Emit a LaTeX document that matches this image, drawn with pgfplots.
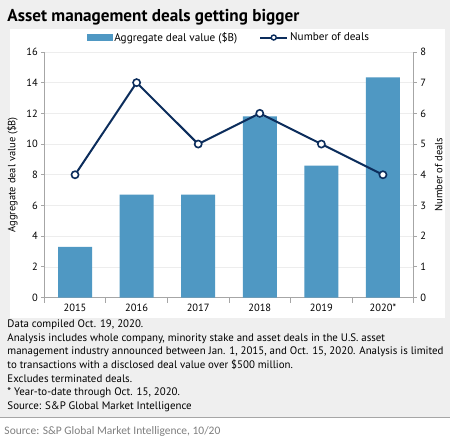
\documentclass[border=0pt]{standalone}
\usepackage{pgfplots}
\pgfplotsset{compat=1.18}
\usepackage{fontspec}
\setmainfont{PT Sans}
\newfontfamily\srcfont{Carlito}
\definecolor{bg}{HTML}{EFEFEF}
\definecolor{barblue}{HTML}{4F98C3}
\definecolor{navy}{HTML}{0C2D5C}
\definecolor{axisgray}{HTML}{A6A6A6}
\definecolor{gridgray}{HTML}{EDEDED}
\definecolor{srcgray}{HTML}{7F7F7F}

% Aggregate deal value ($B) and number of deals per year
\pgfplotstableread{
idx value deals
0 3.3  4
1 6.7  7
2 6.7  5
3 11.8 6
4 8.6  5
5 14.35 4
}\dealdata

\pgfplotsset{
  common/.style={
    at={(44pt,146pt)}, anchor=south west,
    scale only axis, width=370pt, height=246pt,
    xmin=-0.5, xmax=5.5,
    ticklabel style={font=\fontsize{10.5}{12}\selectfont},
    /pgf/number format/assume math mode=true,
    axis line style={axisgray, line width=0.8pt},
    tick style={axisgray, line width=0.8pt},
    tick align=outside,
    major tick length=3pt,
    label style={font=\fontsize{10.5}{12}\selectfont},
  },
}

\begin{document}
\begin{tikzpicture}[x=1pt,y=1pt]
  % backgrounds
  \fill[bg] (0pt,26pt) rectangle (450pt,444pt);
  \fill[white] (0pt,0pt) rectangle (450pt,26pt);
  \draw[axisgray, line width=0.6pt] (0pt,26pt) -- (450pt,26pt);
  \fill[white] (10pt,126pt) rectangle (445pt,415pt);

  % title
  \node[anchor=west, inner sep=0pt] at (7pt,427pt)
    {\fontsize{17.2}{20}\selectfont\bfseries Asset management deals getting bigger};

  % left axis: bars
  \begin{axis}[common,
    ymin=0, ymax=16, ytick={0,2,...,16},
    axis y line*=left, axis x line*=bottom,
    xtick={0,...,5},
    xticklabels={2015,2016,2017,2018,2019,2020*},
    minor xtick={-0.5,0.5,...,5.5},
    major x tick style={draw=none},
    minor tick length=5pt,
    ymajorgrids, grid style={gridgray, line width=0.6pt},
    ylabel={Aggregate deal value (\$B)},
    ylabel style={at={(axis description cs:-0.0865,0.5)}, anchor=center},
  ]
    \addplot[ybar, bar width=34pt, fill=barblue, draw=none] table[x=idx, y=value] {\dealdata};
  \end{axis}

  % right axis: line
  \begin{axis}[common,
    ymin=0, ymax=8, ytick={0,...,8},
    axis y line*=right, axis x line=none,
    ylabel={Number of deals},
    ylabel style={at={(axis description cs:1.0676,0.5)}, anchor=center},
    legend columns=2,
    legend style={at={(0.5,1)}, anchor=south, yshift=5pt, draw=none, fill=none,
      font=\fontsize{11.2}{12}\selectfont,
      /tikz/every even column/.append style={column sep=20pt}},
  ]
    \addlegendimage{legend image code/.code={\fill[barblue] (0pt,-3pt) rectangle (25pt,3pt);}}
    \addlegendentry{Aggregate deal value (\$B)}
    \addplot[navy, line width=2pt, mark=*, mark size=3.6pt,
      mark options={fill=white, draw=navy, line width=1.6pt},
      legend image code/.code={
        \draw[navy, line width=2pt] (0pt,0pt) -- (27pt,0pt);
        \draw[navy, fill=white, line width=1.4pt] (13.5pt,0pt) circle (2.5pt);}]
      table[x=idx, y=deals] {\dealdata};
    \addlegendentry{Number of deals}
  \end{axis}

  % notes
  \node[anchor=north west, inner sep=0pt, align=left,
        font=\fontsize{10.9}{13.7}\selectfont] at (7pt,124pt) {%
    Data compiled Oct. 19, 2020.\\
    Analysis includes whole company, minority stake and asset deals in the U.S. asset\\
    management industry announced between Jan. 1, 2015, and Oct. 15, 2020. Analysis is limited\\
    to transactions with a disclosed deal value over \$500 million.\\
    Excludes terminated deals.\\
    * Year-to-date through Oct. 15, 2020.\\
    Source: S\&P Global Market Intelligence};

  % source line
  \node[anchor=west, inner sep=0pt, text=srcgray] at (4pt,12pt)
    {\srcfont\fontsize{11.5}{14}\selectfont Source: S\&P Global Market Intelligence, 10/20};
\end{tikzpicture}
\end{document}
